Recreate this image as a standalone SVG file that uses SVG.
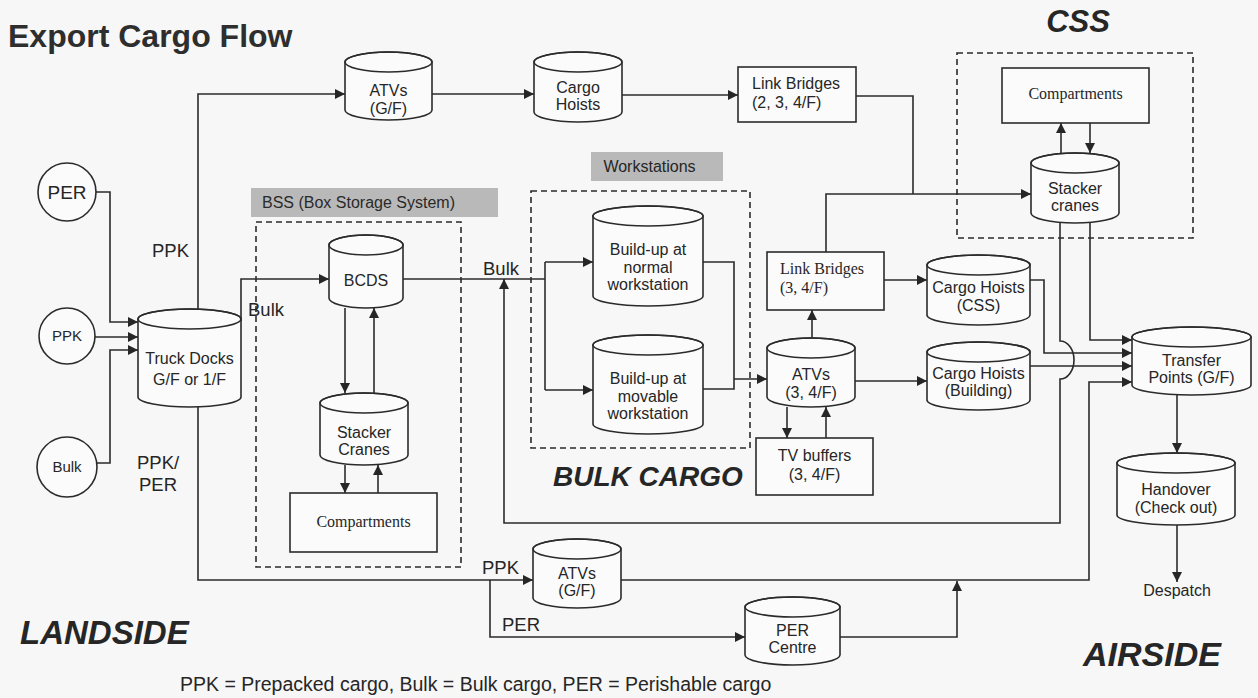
<svg xmlns="http://www.w3.org/2000/svg" width="1258" height="698" viewBox="0 0 1258 698">
<defs>
<marker id="a" viewBox="0 0 10 10" refX="10" refY="5" markerWidth="11" markerHeight="10" markerUnits="userSpaceOnUse" orient="auto"><path d="M0,0 L10,5 L0,10 Z" fill="#262626"/></marker>
<style>
.n{fill:#fbfbfb;stroke:#2b2b2b;stroke-width:1.6}
.cap{fill:none;stroke:#2b2b2b;stroke-width:1.6}
.c{fill:none;stroke:#2b2b2b;stroke-width:1.6}
.ca{fill:none;stroke:#2b2b2b;stroke-width:1.6;marker-end:url(#a)}
.d{fill:none;stroke:#2b2b2b;stroke-width:1.6;stroke-dasharray:6,4}
.t{font-family:"Liberation Sans",Arial,sans-serif;font-size:16px;fill:#262626;text-anchor:middle}
.tl{font-family:"Liberation Sans",Arial,sans-serif;font-size:16px;fill:#262626;text-anchor:start}
.s{font-family:"Liberation Serif","Times New Roman",serif;font-size:16px;fill:#262626}
.l{font-family:"Liberation Sans",Arial,sans-serif;font-size:18.5px;fill:#262626}
.h{font-family:"Liberation Sans",Arial,sans-serif;font-weight:bold;font-style:italic;fill:#262626}
.g{fill:#b9b9b9}
</style>
</defs>
<rect width="1258" height="698" fill="#f7f7f7"/>
<text x="8" y="47" font-family="Liberation Sans,Arial,sans-serif" font-weight="bold" font-size="32" fill="#2e2e2e">Export Cargo Flow</text>
<text class="h" x="1078" y="32" font-size="31" text-anchor="middle">CSS</text>
<text class="h" x="20" y="644" font-size="33">LANDSIDE</text>
<text class="h" x="1083" y="666" font-size="34">AIRSIDE</text>
<text class="h" x="553" y="486" font-size="28">BULK CARGO</text>
<text x="180" y="691" font-family="Liberation Sans,Arial,sans-serif" font-size="19.5" fill="#262626">PPK = Prepacked cargo, Bulk = Bulk cargo, PER = Perishable cargo</text>

<g id="groups">
<rect class="g" x="251" y="188" width="247" height="29"/>
<text x="262" y="208" font-family="Liberation Sans,Arial,sans-serif" font-size="16" fill="#2a2a2a">BSS (Box Storage System)</text>
<rect class="d" x="256" y="222" width="205" height="345"/>
<rect class="g" x="591" y="152" width="132" height="29"/>
<text x="649.5" y="172" class="t">Workstations</text>
<rect class="d" x="531" y="191" width="219" height="257"/>
<rect class="d" x="957" y="53" width="236" height="185"/>
</g>

<g id="connectors">
<path class="ca" d="M96,192 H110 V322 H138"/>
<path class="ca" d="M95,337 H138"/>
<path class="ca" d="M97,463 H110 V350 H138"/>
<path class="ca" d="M198,309 V94 H345"/>
<path class="ca" d="M432,94 H534"/>
<path class="ca" d="M622,95 H738"/>
<path class="c" d="M856,96 H913 V194"/>
<path class="ca" d="M826,252 V194 H1031"/>
<path class="ca" d="M241,321 V279 H329"/>
<path class="ca" d="M345,308 V393"/>
<path class="ca" d="M374,393 V308"/>
<path class="ca" d="M345,465 V493"/>
<path class="ca" d="M378,493 V465"/>
<path class="c" d="M403,279 H545"/>
<path class="c" d="M545,262 V390"/>
<path class="ca" d="M545,262 H593"/>
<path class="ca" d="M545,390 H593"/>
<path class="c" d="M703,262 H734 V389 H703"/>
<path class="ca" d="M734,379 H767"/>
<path class="ca" d="M812,338 V310"/>
<path class="ca" d="M884,280 H927"/>
<path class="ca" d="M855,381 H927"/>
<path class="ca" d="M787,407 V438"/>
<path class="ca" d="M826,438 V407"/>
<path class="ca" d="M1030,280 H1044 V353 H1132"/>
<path class="ca" d="M1030,366 H1132"/>
<path class="ca" d="M1090,223 V340 H1132"/>
<path class="ca" d="M1060,223 V341 A14,19 0 0 1 1060,379 V523 H504 V279"/>
<path class="ca" d="M198,407 V580 H533"/>
<path class="ca" d="M490,580 V637 H745"/>
<path class="ca" d="M621,580 H1089 V382 H1132"/>
<path class="ca" d="M840,637 H957 V581"/>
<path class="ca" d="M1177,395 V453"/>
<path class="ca" d="M1177,525 V582"/>
<path class="ca" d="M1061,153 V123"/>
<path class="ca" d="M1090,123 V153"/>
<text class="l" x="152" y="257">PPK</text>
<text class="l" x="248" y="316">Bulk</text>
<text class="l" x="483" y="275">Bulk</text>
<text class="l" x="137" y="469">PPK/</text>
<text class="l" x="139" y="491">PER</text>
<text class="l" x="482" y="574">PPK</text>
<text class="l" x="502" y="631">PER</text>
<text class="t" x="1177" y="596" font-size="15">Despatch</text>
</g>

<g id="per-circle"><circle class="n" cx="67" cy="192" r="29"/><text class="t" x="67" y="199" style="font-size:19px">PER</text></g>
<g id="ppk-circle"><circle class="n" cx="67" cy="336" r="28"/><text class="t" x="67" y="341" style="font-size:15px">PPK</text></g>
<g id="bulk-circle"><circle class="n" cx="67" cy="467" r="30"/><text class="t" x="67" y="472" style="font-size:15px">Bulk</text></g>

<g id="truck-docks"><path class="n" d="M138,319 A51.5,10 0 0 1 241,319 V397 A51.5,10 0 0 1 138,397 Z"/><ellipse class="cap" cx="189.5" cy="319" rx="51.5" ry="10"/><text class="t" x="189.5" y="364">Truck Docks</text><text class="t" x="189.5" y="385">G/F or 1/F</text></g>

<g id="atvs-gf-top"><path class="n" d="M345,62 A43.5,10 0 0 1 432,62 V110 A43.5,10 0 0 1 345,110 Z"/><ellipse class="cap" cx="388.5" cy="62" rx="43.5" ry="10"/><text class="t" x="388.5" y="96">ATVs</text><text class="t" x="388.5" y="114">(G/F)</text></g>

<g id="cargo-hoists"><path class="n" d="M534,62 A44,10 0 0 1 622,62 V112 A44,10 0 0 1 534,112 Z"/><ellipse class="cap" cx="578" cy="62" rx="44" ry="10"/><text class="t" x="578" y="93">Cargo</text><text class="t" x="578" y="110">Hoists</text></g>

<g id="link-bridges-234"><rect class="n" x="738" y="67" width="118" height="55"/><text class="tl" x="752" y="89">Link Bridges</text><text class="tl" x="752" y="108">(2, 3, 4/F)</text></g>

<g id="bcds"><path class="n" d="M329,245 A37,10 0 0 1 403,245 V298 A37,10 0 0 1 329,298 Z"/><ellipse class="cap" cx="366" cy="245" rx="37" ry="10"/><text class="t" x="366" y="286">BCDS</text></g>

<g id="stacker-cranes-bss"><path class="n" d="M320,403 A44,10 0 0 1 408,403 V455 A44,10 0 0 1 320,455 Z"/><ellipse class="cap" cx="364" cy="403" rx="44" ry="10"/><text class="t" x="364" y="438">Stacker</text><text class="t" x="364" y="455">Cranes</text></g>

<g id="compartments-bss"><rect class="n" x="290" y="493" width="147" height="59"/><text class="s" x="363.5" y="527" text-anchor="middle">Compartments</text></g>

<g id="buildup-normal"><path class="n" d="M593,216 A55,10 0 0 1 703,216 V296 A55,10 0 0 1 593,296 Z"/><ellipse class="cap" cx="648" cy="216" rx="55" ry="10"/><text class="t" x="648" y="255">Build-up at</text><text class="t" x="648" y="273">normal</text><text class="t" x="648" y="290">workstation</text></g>

<g id="buildup-movable"><path class="n" d="M593,345 A55,10 0 0 1 703,345 V424 A55,10 0 0 1 593,424 Z"/><ellipse class="cap" cx="648" cy="345" rx="55" ry="10"/><text class="t" x="648" y="384">Build-up at</text><text class="t" x="648" y="402">movable</text><text class="t" x="648" y="419">workstation</text></g>

<g id="link-bridges-34"><rect class="n" x="767" y="252" width="117" height="58"/><text class="s" x="780" y="274">Link Bridges</text><text class="s" x="780" y="293">(3, 4/F)</text></g>

<g id="atvs-34"><path class="n" d="M767,348 A44,10 0 0 1 855,348 V397 A44,10 0 0 1 767,397 Z"/><ellipse class="cap" cx="811" cy="348" rx="44" ry="10"/><text class="t" x="811" y="380">ATVs</text><text class="t" x="811" y="398">(3, 4/F)</text></g>

<g id="tv-buffers"><rect class="n" x="756" y="438" width="117" height="57"/><text class="t" x="814.5" y="461">TV buffers</text><text class="t" x="814.5" y="480">(3, 4/F)</text></g>

<g id="cargo-hoists-css"><path class="n" d="M927,265 A51.5,10 0 0 1 1030,265 V315 A51.5,10 0 0 1 927,315 Z"/><ellipse class="cap" cx="978.5" cy="265" rx="51.5" ry="10"/><text class="t" x="978.5" y="293">Cargo Hoists</text><text class="t" x="978.5" y="311">(CSS)</text></g>

<g id="cargo-hoists-building"><path class="n" d="M927,352 A51.5,10 0 0 1 1030,352 V400 A51.5,10 0 0 1 927,400 Z"/><ellipse class="cap" cx="978.5" cy="352" rx="51.5" ry="10"/><text class="t" x="978.5" y="379">Cargo Hoists</text><text class="t" x="978.5" y="396">(Building)</text></g>

<g id="compartments-css"><rect class="n" x="1002" y="68" width="147" height="55"/><text class="s" x="1075.5" y="99" text-anchor="middle">Compartments</text></g>

<g id="stacker-cranes-css"><path class="n" d="M1031,163 A44,10 0 0 1 1119,163 V213 A44,10 0 0 1 1031,213 Z"/><ellipse class="cap" cx="1075" cy="163" rx="44" ry="10"/><text class="t" x="1075" y="194">Stacker</text><text class="t" x="1075" y="211">cranes</text></g>

<g id="transfer-points"><path class="n" d="M1132,337 A59.5,10 0 0 1 1251,337 V385 A59.5,10 0 0 1 1132,385 Z"/><ellipse class="cap" cx="1191.5" cy="337" rx="59.5" ry="10"/><text class="t" x="1191.5" y="366">Transfer</text><text class="t" x="1191.5" y="383">Points (G/F)</text></g>

<g id="handover"><path class="n" d="M1117,463 A59,10 0 0 1 1235,463 V515 A59,10 0 0 1 1117,515 Z"/><ellipse class="cap" cx="1176" cy="463" rx="59" ry="10"/><text class="t" x="1176" y="495">Handover</text><text class="t" x="1176" y="513">(Check out)</text></g>

<g id="atvs-gf-bottom"><path class="n" d="M533,549 A44,10 0 0 1 621,549 V598 A44,10 0 0 1 533,598 Z"/><ellipse class="cap" cx="577" cy="549" rx="44" ry="10"/><text class="t" x="577" y="579">ATVs</text><text class="t" x="577" y="596">(G/F)</text></g>

<g id="per-centre"><path class="n" d="M745,607 A47.5,10 0 0 1 840,607 V655 A47.5,10 0 0 1 745,655 Z"/><ellipse class="cap" cx="792.5" cy="607" rx="47.5" ry="10"/><text class="t" x="792.5" y="636">PER</text><text class="t" x="792.5" y="653">Centre</text></g>
</svg>
